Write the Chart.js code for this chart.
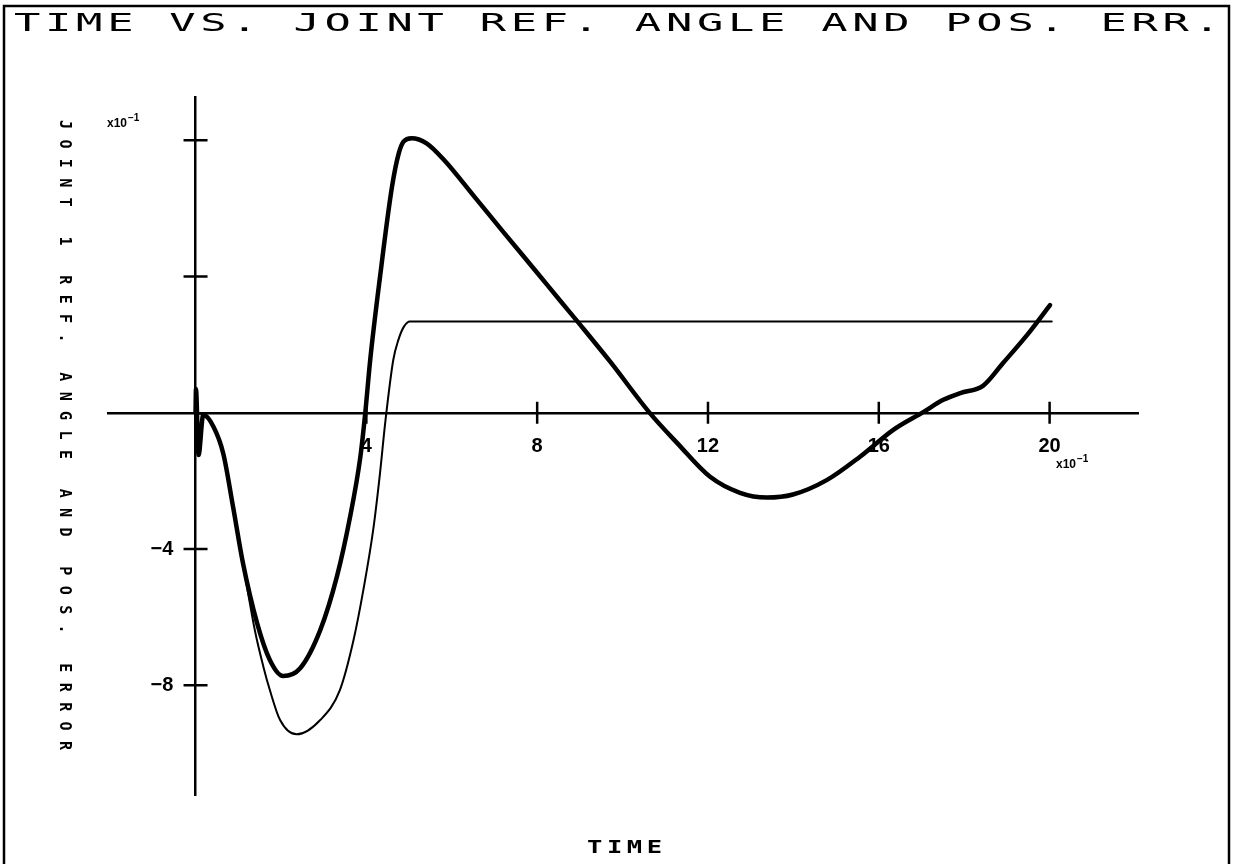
<!DOCTYPE html>
<html>
<head>
<meta charset="utf-8">
<script src="https://cdn.jsdelivr.net/npm/chart.js@4.4.1/dist/chart.umd.min.js"></script>
<style>
html,body{margin:0;padding:0;background:#fff;}
#wrap{width:1233px;height:864px;position:relative;}
canvas{display:block;}
</style>
</head>
<body>
<div id="wrap"><canvas id="c" width="1233" height="864"></canvas></div>
<script>
// ---- text ----
const titleText = 'TIME VS. JOINT REF. ANGLE AND POS. ERR.';
const xTitle = 'TIME';
const yTitle = 'JOINT 1 REF. ANGLE AND POS. ERROR';
const scaleNote = 'x10';
const scaleExp = '\u22121';

// ---- ticks ----
const xTickValues = [4, 8, 12, 16, 20];
const yTickValues = [-8, -4, 4, 8];
const yLabelledTicks = [-8, -4];

// ---- axis ranges (x10^-1 units) ----
const xRange = [-2.05, 22.07];
const yRange = [-11.22, 9.27];

// ---- series: thick curve ----
const thickX = [0, 0.01, 0.07, 0.18, 0.42, 0.65, 0.88, 1.11, 1.44, 1.74, 2.05, 2.45, 2.92, 3.31, 3.62, 3.86, 3.97, 4.09, 4.32, 4.60, 4.76, 4.87, 5.06, 5.41, 5.82, 6.50, 7.20, 8.00, 8.54, 9.01, 9.71, 10.64, 11.28, 12.05, 12.75, 13.38, 13.99, 14.79, 15.56, 16.34, 17.04, 17.51, 17.91, 18.44, 18.91, 19.47, 19.78, 20.01];
const thickY = [0, 0.7, -1.24, -0.06, -0.41, -1.2, -2.77, -4.41, -6.17, -7.26, -7.73, -7.50, -6.38, -4.81, -3.05, -1.29, -0.06, 1.55, 3.99, 6.63, 7.62, 7.96, 8.06, 7.91, 7.42, 6.39, 5.32, 4.11, 3.29, 2.58, 1.50, -0.01, -0.89, -1.88, -2.35, -2.49, -2.40, -1.97, -1.29, -0.50, 0.02, 0.38, 0.58, 0.79, 1.46, 2.28, 2.78, 3.16];

// ---- series: thin curve ----
const thinX = [0, 0.18, 0.42, 0.65, 0.88, 1.11, 1.39, 1.59, 1.74, 1.98, 2.37, 2.92, 3.38, 3.70, 3.93, 4.16, 4.32, 4.44, 4.63, 4.75, 4.88, 5.02, 20.05];
const thinY = [0, -0.06, -0.41, -1.2, -2.77, -4.41, -6.39, -7.46, -8.14, -9.02, -9.44, -9.02, -8.14, -6.67, -5.20, -3.44, -1.77, -0.31, 1.55, 2.14, 2.53, 2.68, 2.68];

function toPoints(xs, ys) { return xs.map((x, i) => ({ x: x, y: ys[i] })); }

function drawFitted(ctx, text, x, y, width, font, sx) {
  ctx.save();
  ctx.font = font;
  ctx.letterSpacing = '0px';
  const w = ctx.measureText(text).width;
  const n = text.length;
  const ls = (width / sx - w) / (n - 1);
  ctx.translate(x, y);
  ctx.scale(sx, 1);
  ctx.letterSpacing = ls + 'px';
  ctx.textAlign = 'left';
  ctx.fillText(text, 0, 0);
  ctx.restore();
}

const decorPlugin = {
  id: 'decor',
  beforeDraw(chart) {
    const ctx = chart.ctx;
    ctx.save();
    ctx.fillStyle = '#fff';
    ctx.fillRect(0, 0, chart.width, chart.height);
    ctx.strokeStyle = '#000';
    ctx.lineWidth = 2.5;
    ctx.beginPath();
    ctx.moveTo(4, 870); ctx.lineTo(4, 6); ctx.lineTo(1229, 6); ctx.lineTo(1229, 870);
    ctx.stroke();
    ctx.restore();
  },
  afterDraw(chart) {
    const ctx = chart.ctx;
    const xs = chart.scales.x, ys = chart.scales.y;
    const x0 = xs.getPixelForValue(0), y0 = ys.getPixelForValue(0);
    ctx.save();
    ctx.strokeStyle = '#000';
    ctx.lineWidth = 2.5;
    ctx.beginPath();
    xTickValues.forEach(v => { const p = xs.getPixelForValue(v); ctx.moveTo(p, y0 - 11); ctx.lineTo(p, y0 + 11); });
    yTickValues.forEach(v => { const p = ys.getPixelForValue(v); ctx.moveTo(x0 - 12, p); ctx.lineTo(x0 + 12, p); });
    ctx.stroke();

    ctx.fillStyle = '#000';
    ctx.textBaseline = 'alphabetic';
    drawFitted(ctx, titleText, 14, 31, 1206, '25px "DejaVu Sans Mono"', 1.75);
    drawFitted(ctx, xTitle, 587, 853, 75, 'bold 17px "DejaVu Sans Mono"', 1.5);

    // y title rotated
    ctx.save();
    ctx.translate(64, 120);
    ctx.rotate(Math.PI / 2);
    ctx.textBaseline = 'middle';
    drawFitted(ctx, yTitle, 0, 0, 630, 'bold 15px "DejaVu Sans Mono"', 1);
    ctx.restore();

    // x10^-1 notes
    function note(x, y) {
      ctx.save();
      ctx.textBaseline = 'alphabetic';
      ctx.textAlign = 'left';
      ctx.font = 'bold 12px "Liberation Sans"';
      ctx.fillText(scaleNote, x, y);
      const w = ctx.measureText(scaleNote).width;
      ctx.font = 'bold 10px "Liberation Sans"';
      ctx.fillText(scaleExp, x + w + 1, y - 6);
      ctx.restore();
    }
    note(107, 127);
    note(1056, 468);
    ctx.restore();
  }
};

new Chart(document.getElementById('c'), {
  type: 'scatter',
  data: {
    datasets: [
      { label: 'thick', data: toPoints(thickX, thickY), showLine: true, borderColor: '#000', borderWidth: 4.5, pointRadius: 0, cubicInterpolationMode: 'monotone', borderCapStyle: 'round', borderJoinStyle: 'round' },
      { label: 'thin', data: toPoints(thinX, thinY), showLine: true, borderColor: '#000', borderWidth: 2, pointRadius: 0, cubicInterpolationMode: 'monotone', borderCapStyle: 'round', borderJoinStyle: 'round' }
    ]
  },
  options: {
    responsive: false,
    animation: false,
    layout: { padding: { left: 108, right: 95, top: 97, bottom: 69 } },
    plugins: { legend: { display: false }, tooltip: { enabled: false }, title: { display: false } },
    scales: {
      x: {
        type: 'linear', min: xRange[0], max: xRange[1], position: { y: 0 },
        afterBuildTicks: s => { s.ticks = xTickValues.map(v => ({ value: v })); },
        ticks: { color: '#000', font: { family: '"Liberation Sans"', size: 20, weight: 'bold' }, padding: 22, maxRotation: 0, autoSkip: false, callback: v => String(v) },
        grid: { display: false, drawTicks: false },
        border: { display: true, color: '#000', width: 2.5 }
      },
      y: {
        type: 'linear', min: yRange[0], max: yRange[1], position: { x: 0 },
        afterBuildTicks: s => { s.ticks = yTickValues.map(v => ({ value: v })); },
        ticks: { color: '#000', font: { family: '"Liberation Sans"', size: 20, weight: 'bold' }, padding: 22, autoSkip: false, callback: v => yLabelledTicks.includes(v) ? '\u2212' + Math.abs(v) + '    ' : '' },
        grid: { display: false, drawTicks: false },
        border: { display: true, color: '#000', width: 2.5 }
      }
    }
  },
  plugins: [decorPlugin]
});
</script>
</body>
</html>
